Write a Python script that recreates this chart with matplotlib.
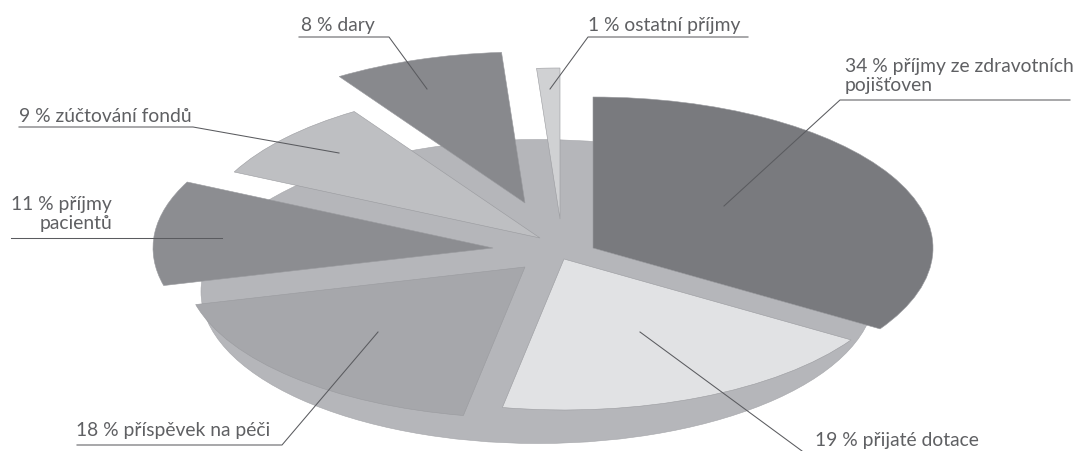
import matplotlib
matplotlib.use("Agg")
import matplotlib.pyplot as plt
from matplotlib.patches import Ellipse

# slice sizes (the printed labels are rounded)
values = [34, 18.9, 18.1, 11.2, 8.6, 8.1, 1.1]
labels = ["34 % příjmy ze zdravotních\npojišťoven", "19 % přijaté dotace", "18 % příspěvek na péči",
          "11 % příjmy\npacientů", "9 % zúčtování fondů", "8 % dary", "1 % ostatní příjmy"]
colors = ["#797a7e", "#e1e2e4", "#a6a7ab", "#8c8d91", "#bebfc2", "#88898d", "#d0d1d3"]

W, H = 1075, 452
RX, RY = 340, 151

# tip of each slice, pixels
tips = [(593, 249), (564, 260), (525, 268), (493, 249), (540, 239), (525, 204), (560, 220)]
# text anchor x, y, alignment
label_pos = [(845, 76, "left"), (815, 441, "left"), (76, 431, "left"), (112, 214, "right"),
             (19, 116, "left"), (301, 25, "left"), (588, 26, "left")]
leaders = [[(1070, 101), (840, 101), (724, 207)],
           [(640, 333), (802, 452)],
           [(77, 446), (282, 446), (378, 333)],
           [(11, 239), (222, 239)],
           [(19, 128), (193, 128), (339, 154)],
           [(299, 38), (389, 38), (427, 90)],
           [(748, 38), (588, 38), (550, 90)]]

plt.rcParams["font.family"] = ["Lato", "DejaVu Sans"]
fig = plt.figure(figsize=(W / 100, H / 100), dpi=100)

# pie axes: one data unit is one radius, so the circle comes out squashed
ax = fig.add_axes([0, 0, 1, 1])
wedges, _ = ax.pie(values, colors=colors, startangle=90, counterclock=False,
                   wedgeprops={"edgecolor": "#9a9b9f", "linewidth": 0.4})
ax.set_aspect("auto")
ax.set_xlim(0, W / RX)
ax.set_ylim(-H / RY, 0)
ax.axis("off")

ax.add_patch(Ellipse((538 / RX, -292.5 / RY), 2 * 337 / RX, 2 * 152 / RY, facecolor="#b5b6ba",
                     edgecolor="#a5a6aa", linewidth=0.4, zorder=0))
for w, (px, py) in zip(wedges, tips):
    w.set_center((px / RX, -py / RY))

# overlay in pixels for text and leader lines
over = fig.add_axes([0, 0, 1, 1])
over.set_xlim(0, W)
over.set_ylim(H, 0)
over.axis("off")
over.patch.set_alpha(0)

for pts in leaders:
    over.plot([p[0] for p in pts], [p[1] for p in pts], color="#5a5b5f", lw=0.75, solid_joinstyle="miter")
for text, (x, y, ha) in zip(labels, label_pos):
    over.text(x, y, text, ha=ha, va="center", fontsize=13.9, color="#5f6063", linespacing=1.1)

fig.savefig("out.png", dpi=100)
